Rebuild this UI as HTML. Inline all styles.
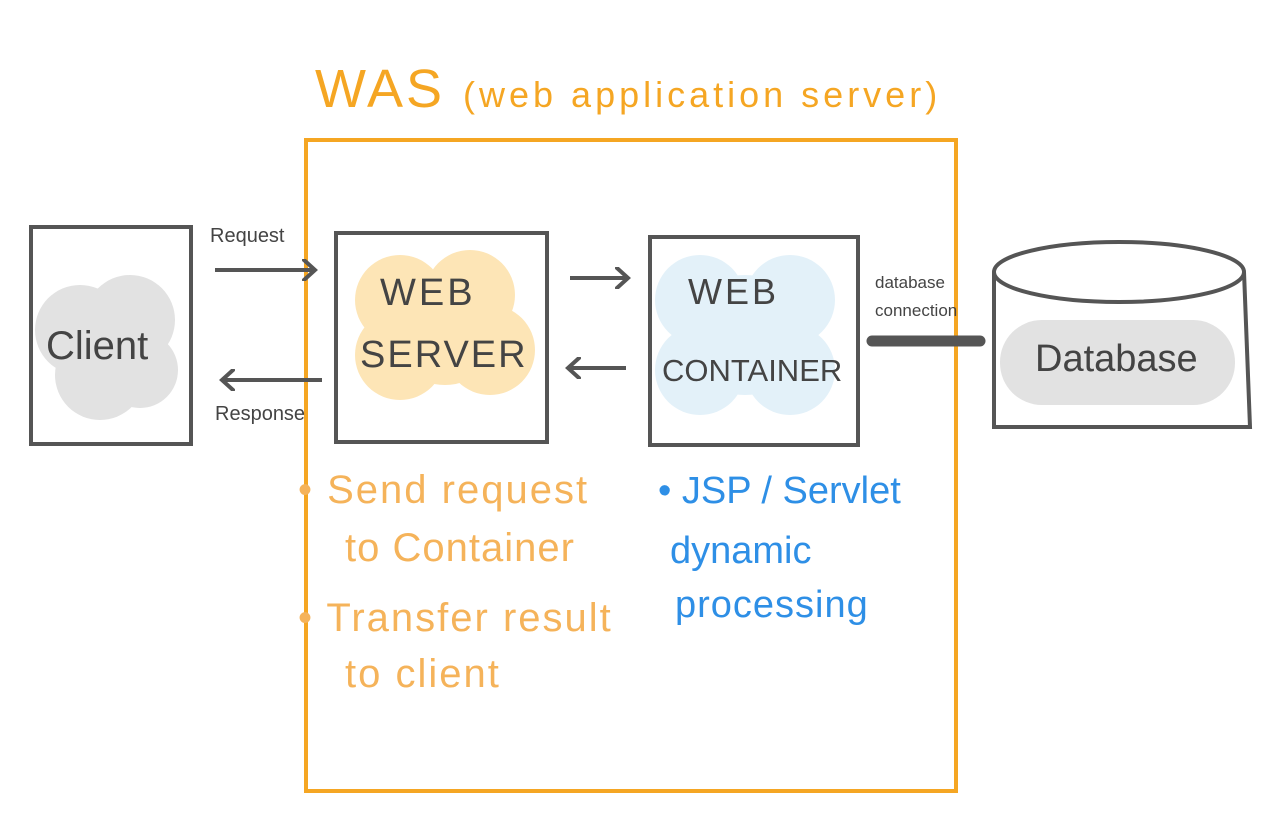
<!DOCTYPE html>
<html><head><meta charset="utf-8"><style>
body{margin:0;width:1280px;height:828px;background:#fff;position:relative;overflow:hidden;font-family:"Liberation Sans",sans-serif}
.t{position:absolute;white-space:nowrap;line-height:1}
</style></head><body>
<svg width="1280" height="828" style="position:absolute;left:0;top:0">
<defs><marker id="a" markerWidth="16" markerHeight="22" refX="13" refY="11" orient="auto" markerUnits="userSpaceOnUse"><path d="M2,1 L13,11 L2,21" fill="none" stroke="#555" stroke-width="4" stroke-linecap="round"/></marker></defs>
<rect x="306" y="140" width="650" height="651" fill="none" stroke="#F5A623" stroke-width="4"/>
<g fill="#e2e2e2"><circle cx="80" cy="330" r="45"/><circle cx="130" cy="320" r="45"/><circle cx="100" cy="375" r="45"/><circle cx="140" cy="370" r="38"/></g>
<g fill="#FDE5B6"><circle cx="400" cy="300" r="45"/><circle cx="470" cy="295" r="45"/><circle cx="400" cy="355" r="45"/><circle cx="490" cy="350" r="45"/><circle cx="445" cy="330" r="55"/></g>
<g fill="#E3F1F9"><circle cx="700" cy="300" r="45"/><circle cx="790" cy="300" r="45"/><circle cx="700" cy="370" r="45"/><circle cx="790" cy="370" r="45"/><circle cx="745" cy="335" r="60"/></g>
<g fill="#e2e2e2"><rect x="1000" y="320" width="235" height="85" rx="42"/></g>
<g fill="none" stroke="#555" stroke-width="4">
<rect x="31" y="227" width="160" height="217"/>
<rect x="336" y="233" width="211" height="209"/>
<rect x="650" y="237" width="208" height="208"/>
<ellipse cx="1119" cy="272" rx="125" ry="30"/>
<path d="M994 272 L994 427 L1250 427 L1244 272"/>
<line x1="215" y1="270" x2="315" y2="270" marker-end="url(#a)"/>
<line x1="322" y1="380" x2="222" y2="380" marker-end="url(#a)"/>
<line x1="570" y1="278" x2="628" y2="278" marker-end="url(#a)"/>
<line x1="626" y1="368" x2="568" y2="368" marker-end="url(#a)"/>
</g>
<line x1="872" y1="341" x2="980" y2="341" stroke="#555" stroke-width="11" stroke-linecap="round"/>
</svg>
<div class="t" style="left:315px;top:62px;font-size:54px;color:#F5A623;letter-spacing:3px">WAS <span style="font-size:36px;letter-spacing:4px">(web application server)</span></div>
<div class="t" style="left:46px;top:326px;font-size:40px;color:#444">Client</div>
<div class="t" style="left:380px;top:274px;font-size:38px;color:#444;letter-spacing:3px">WEB</div>
<div class="t" style="left:360px;top:336px;font-size:38px;color:#444;letter-spacing:2px">SERVER</div>
<div class="t" style="left:688px;top:274px;font-size:36px;color:#444;letter-spacing:3px">WEB</div>
<div class="t" style="left:662px;top:355px;font-size:31px;color:#444">CONTAINER</div>
<div class="t" style="left:1035px;top:340px;font-size:38px;color:#444">Database</div>
<div class="t" style="left:210px;top:226px;font-size:20px;color:#444">Request</div>
<div class="t" style="left:215px;top:404px;font-size:20px;color:#444">Response</div>
<div class="t" style="left:875px;top:274px;font-size:17px;color:#444">database</div>
<div class="t" style="left:875px;top:302px;font-size:17px;color:#444">connection</div>
<div class="t" style="left:298px;top:470px;font-size:40px;color:#F5B35A;letter-spacing:2px">• Send request</div>
<div class="t" style="left:345px;top:528px;font-size:40px;color:#F5B35A;letter-spacing:1px">to Container</div>
<div class="t" style="left:298px;top:598px;font-size:40px;color:#F5B35A;letter-spacing:2px">• Transfer result</div>
<div class="t" style="left:345px;top:654px;font-size:40px;color:#F5B35A;letter-spacing:2px">to client</div>
<div class="t" style="left:658px;top:472px;font-size:38px;color:#2E8FE6">• JSP / Servlet</div>
<div class="t" style="left:670px;top:532px;font-size:38px;color:#2E8FE6">dynamic</div>
<div class="t" style="left:675px;top:586px;font-size:38px;color:#2E8FE6;letter-spacing:1px">processing</div>
</body></html>
